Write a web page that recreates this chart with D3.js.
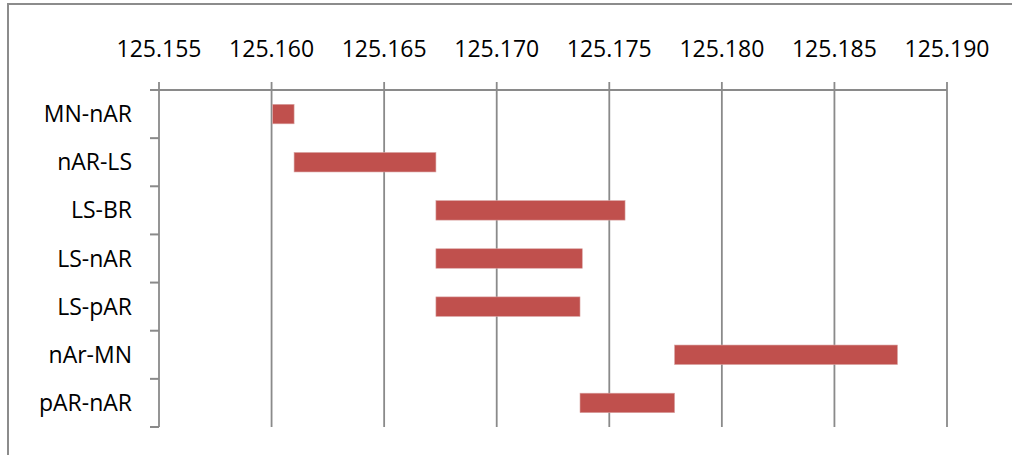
<!DOCTYPE html>
<html>
<head>
<meta charset="utf-8">
<script src="https://cdn.jsdelivr.net/npm/d3@7/dist/d3.min.js"></script>
<style>
  html, body { margin: 0; padding: 0; background: #fff; }
  svg { display: block; }
  text { font-family: "Open Sans", "Noto Sans", "Liberation Sans", sans-serif; fill: #000; }
</style>
</head>
<body>
<svg id="chart" width="1012" height="455"></svg>
<script>
// Interval per transition (start and end on the same scale)
const categories = ["MN-nAR", "nAR-LS", "LS-BR", "LS-nAR", "LS-pAR", "nAr-MN", "pAR-nAR"];
const startValues = [125.16005, 125.1610, 125.1673, 125.1673, 125.1673, 125.1779, 125.1737];
const endValues   = [125.1610, 125.1673, 125.1757, 125.1738, 125.1737, 125.1878, 125.1779];
const tickValues  = [125.155, 125.160, 125.165, 125.170, 125.175, 125.180, 125.185, 125.190];

const W = 1012, H = 455;
const margin = { top: 90, right: 65, bottom: 28, left: 159 };
const gridColor = "#8a8a8a";
const barColor = "#C0504D";

const svg = d3.select("#chart");

// chart frame
svg.append("rect")
  .attr("x", 8).attr("y", 4)
  .attr("width", W + 20).attr("height", H + 20)
  .attr("fill", "#fff")
  .attr("stroke", "#8c8c8c").attr("stroke-width", 2);

const x = d3.scaleLinear()
  .domain([tickValues[0], tickValues[tickValues.length - 1]])
  .range([margin.left, W - margin.right]);

const y = d3.scaleBand()
  .domain(categories)
  .range([margin.top, H - margin.bottom])
  .paddingInner(0.595)
  .paddingOuter(0.2975);

const step = y.step();
const y0 = margin.top, y1 = H - margin.bottom;

// vertical gridlines with outward ticks above the top axis
svg.append("g")
  .selectAll("line")
  .data(tickValues)
  .join("line")
  .attr("x1", d => x(d)).attr("x2", d => x(d))
  .attr("y1", y0 - 8).attr("y2", y1)
  .attr("stroke", gridColor).attr("stroke-width", 1.8);

// top axis line
svg.append("line")
  .attr("x1", x.range()[0]).attr("x2", x.range()[1])
  .attr("y1", y0).attr("y2", y0)
  .attr("stroke", gridColor).attr("stroke-width", 2);

// category axis ticks at band boundaries
const boundaries = categories.map(c => y(c) + y.bandwidth() / 2 - step / 2);
boundaries.push(y(categories[categories.length - 1]) + y.bandwidth() / 2 + step / 2);
svg.append("g")
  .selectAll("line")
  .data(boundaries)
  .join("line")
  .attr("x1", margin.left - 9).attr("x2", margin.left)
  .attr("y1", d => d).attr("y2", d => d)
  .attr("stroke", gridColor).attr("stroke-width", 2);

// value labels along the top
svg.append("g")
  .selectAll("text")
  .data(tickValues)
  .join("text")
  .attr("x", d => x(d))
  .attr("y", 57)
  .attr("text-anchor", "middle")
  .attr("font-size", 23)
  .text(d => d3.format(".3f")(d));

// category labels
svg.append("g")
  .selectAll("text")
  .data(categories)
  .join("text")
  .attr("x", 132)
  .attr("y", d => y(d) + y.bandwidth() / 2 + 8)
  .attr("text-anchor", "end")
  .attr("font-size", 23)
  .text(d => d);

// floating bars
const rows = categories.map((c, i) => ({ c, s: startValues[i], e: endValues[i] }));
svg.append("g")
  .selectAll("rect")
  .data(rows)
  .join("rect")
  .attr("x", d => x(d.s))
  .attr("y", d => y(d.c))
  .attr("width", d => x(d.e) - x(d.s))
  .attr("height", y.bandwidth())
  .attr("fill", barColor)
  .attr("stroke", "#d9a3a2").attr("stroke-width", 0.6);
</script>
</body>
</html>
